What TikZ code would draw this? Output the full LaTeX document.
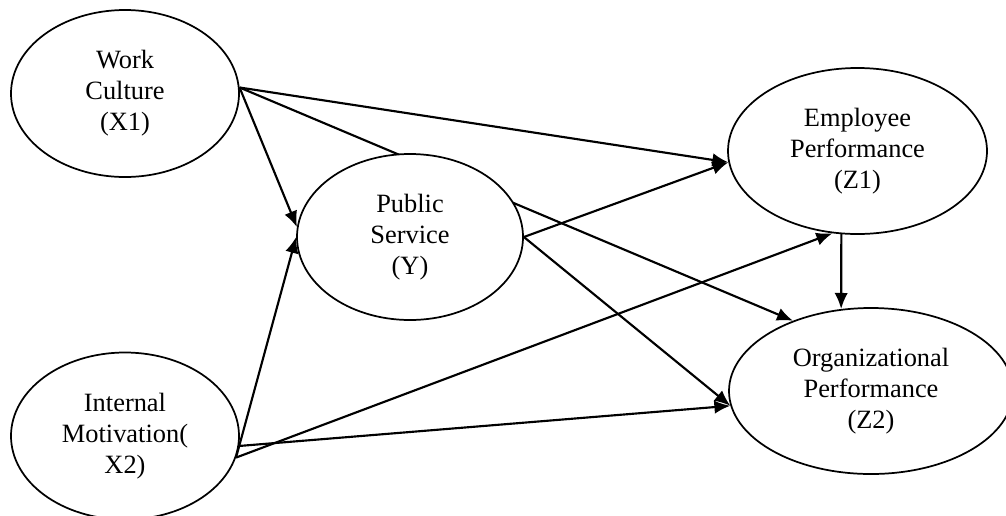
\documentclass[tikz,border=0pt]{standalone}
\usepackage{fontspec}
\setmainfont{Liberation Serif}
\usetikzlibrary{shapes.geometric,arrows.meta,backgrounds}
\tikzset{
  latent/.style={ellipse, draw, line width=1.3pt, fill=white, inner sep=0pt,
    align=center, font=\fontsize{19.8}{23.25}\selectfont},
  conn/.style={line width=1.6pt, -{Latex[length=12pt,width=10pt]}}
}
\begin{document}
\begin{tikzpicture}[x=0.75pt,y=-0.75pt]
\useasboundingbox (0,0) rectangle (1006,515);
\node[latent, minimum width=171pt, minimum height=125.25pt] (X1) at (125,93.5) {Work\\Culture\\(X1)};
\node[latent, minimum width=169.5pt, minimum height=124.5pt] (Y) at (410,237) {Public\\Service\\(Y)};
\node[latent, minimum width=194.25pt, minimum height=124.5pt] (Z1) at (857.5,151) {Employee\\Performance\\(Z1)};
\node[latent, minimum width=213pt, minimum height=124.5pt] (Z2) at (871,391) {Organizational\\Performance\\(Z2)};
\node[latent, minimum width=171pt, minimum height=125.25pt] (X2) at (125,436) {Internal\\Motivation(\\X2)};
\begin{pgfonlayer}{background}
\draw[conn] (X1.3) -- (Z1.185);
\draw[conn] (X1.3) -- (Z2.138);
\draw[conn] (X1.3) -- (Y.175);
\draw[conn] (X2.-11) -- (Y.180);
\draw[conn] (X2.-11) -- (Z1.253);
\draw[conn] (X2.-5) -- (Z2.186);
\draw[conn] (Y.0) -- (Z1.185);
\draw[conn] (Y.0) -- (Z2.186);
\draw[conn] (Z1.259) -- (Z2.110);
\end{pgfonlayer}
\end{tikzpicture}
\end{document}
